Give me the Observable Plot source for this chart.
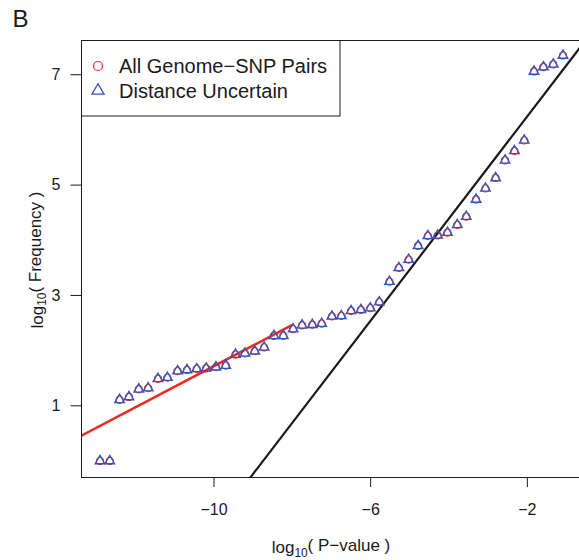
<!DOCTYPE html>
<html>
<head>
<meta charset="utf-8">
<script src="https://cdn.jsdelivr.net/npm/d3@7"></script>
<script src="https://cdn.jsdelivr.net/npm/@observablehq/plot@0.6"></script>
<style>
  html, body { margin: 0; padding: 0; background: #fff; overflow: hidden; }
  #chart { position: relative; width: 579px; height: 560px; }
</style>
</head>
<body>
<div id="chart"></div>
<script>
// Bin positions, log10(P-value)
const logP = [
  -12.91, -12.66, -12.41, -12.17, -11.92, -11.68, -11.43, -11.19, -10.93, -10.69,
  -10.44, -10.20, -9.95, -9.70, -9.45, -9.21, -8.96, -8.72, -8.47, -8.23,
  -7.98, -7.75, -7.49, -7.25, -6.99, -6.75, -6.50, -6.25, -6.01, -5.78,
  -5.52, -5.28, -5.03, -4.79, -4.54, -4.29, -4.04, -3.79, -3.56, -3.31,
  -3.07, -2.81, -2.57, -2.33, -2.08, -1.83, -1.59, -1.34, -1.09
];
// log10(Frequency), all genome-SNP pairs
const allPairs = [
  0.00, 0.00, 1.11, 1.16, 1.30, 1.32, 1.49, 1.51, 1.63, 1.65,
  1.67, 1.68, 1.70, 1.73, 1.93, 1.95, 1.99, 2.06, 2.27, 2.27,
  2.39, 2.46, 2.47, 2.49, 2.62, 2.63, 2.72, 2.74, 2.77, 2.88,
  3.25, 3.50, 3.65, 3.90, 4.08, 4.09, 4.14, 4.28, 4.43, 4.74,
  4.94, 5.13, 5.45, 5.62, 5.81, 7.06, 7.14, 7.19, 7.35
];
// log10(Frequency), pairs whose distance is uncertain
const distUncertain = [
  0.00, 0.00, 1.11, 1.16, 1.30, 1.32, 1.49, 1.51, 1.63, 1.65,
  1.67, 1.68, 1.70, 1.73, 1.93, 1.95, 1.99, 2.06, 2.27, 2.27,
  2.39, 2.46, 2.47, 2.49, 2.62, 2.63, 2.72, 2.74, 2.77, 2.88,
  3.25, 3.50, 3.65, 3.90, 4.08, 4.09, 4.14, 4.28, 4.43, 4.74,
  4.94, 5.13, 5.45, 5.62, 5.81, 7.06, 7.14, 7.19, 7.35
];
const xTicks = [-10, -6, -2];
const yTicks = [1, 3, 5, 7];
const seriesNames = ["All Genome\u2212SNP Pairs", "Distance Uncertain"];
// Fitted lines: y = intercept + slope * x over [from, to]
const lowFit = { intercept: 5.45, slope: 0.373, from: -14, to: -8.0 };
const tailFit = { intercept: 8.10, slope: 0.926, from: -10, to: 0 };

const RED = "#ec2a24";
const BLUE = "#3553b8";
const INK = "#1a1a1a";
const FONT = "'Liberation Sans', Arial, Helvetica, sans-serif";

const xDomain = [-13.382, -0.669];
const yDomain = [-0.2996, 7.621];

const points = logP.map((x, i) => ({ x, all: allPairs[i], unc: distUncertain[i] }));
const fitLine = f => [f.from, f.to].map(x => ({ x, y: f.intercept + f.slope * x }));

const plot = Plot.plot({
  width: 579,
  height: 560,
  marginLeft: 81,
  marginRight: 0,
  marginTop: 40,
  marginBottom: 83,
  x: { domain: xDomain },
  y: { domain: yDomain },
  style: { fontFamily: FONT, background: "white", color: INK, overflow: "visible" },
  marks: [
    Plot.line(fitLine(lowFit), { x: "x", y: "y", stroke: RED, strokeWidth: 2.5, clip: true }),
    Plot.line(fitLine(tailFit), { x: "x", y: "y", stroke: INK, strokeWidth: 2.2, clip: true }),
    Plot.dot(points, { x: "x", y: "all", r: 3.6, fill: "none", stroke: RED, strokeWidth: 1.1 }),
    Plot.dot(points, { x: "x", y: "unc", symbol: "triangle", r: 3.6, fill: "none", stroke: BLUE, strokeWidth: 1.3 }),
    Plot.ruleX([xDomain[0]], { stroke: INK }),
    Plot.ruleY(yDomain, { stroke: INK }),
    Plot.axisX(xTicks, { tickSize: 10, tickPadding: 16.5, fontSize: 16, label: null, tickFormat: "d" }),
    Plot.axisY(yTicks, { tickSize: 10.5, tickPadding: 10.5, fontSize: 16, label: null, tickFormat: "d" })
  ]
});

document.getElementById("chart").appendChild(plot);

// Titles with subscripted log base, legend and panel letter
const svg = d3.select(plot);
const deco = svg.append("g").attr("font-family", FONT).attr("fill", INK);

function subTitle(sel, before, sub, after) {
  sel.append("tspan").text(before);
  sel.append("tspan").attr("font-size", "0.7em").attr("dy", "0.3em").text(sub);
  sel.append("tspan").attr("dy", "-0.3em").text(after);
}

const xTitle = deco.append("text")
  .attr("x", 331).attr("y", 553)
  .attr("text-anchor", "middle").attr("font-size", 17);
subTitle(xTitle, "log", "10", "( P\u2212value )");

const yTitle = deco.append("text")
  .attr("transform", "translate(42.5,260) rotate(-90)")
  .attr("text-anchor", "middle").attr("font-size", 17);
subTitle(yTitle, "log", "10", "( Frequency )");

deco.append("text")
  .attr("x", 12.5).attr("y", 27)
  .attr("text-anchor", "start")
  .attr("font-size", 24).text("B");

const legend = deco.append("g").attr("text-anchor", "start");
legend.append("rect")
  .attr("x", 81.5).attr("y", 40.5).attr("width", 258.5).attr("height", 75.5)
  .attr("fill", "white").attr("stroke", INK);
legend.append("circle")
  .attr("cx", 98).attr("cy", 66).attr("r", 4.5)
  .attr("fill", "none").attr("stroke", RED).attr("stroke-width", 1.2);
legend.append("path")
  .attr("d", d3.symbol(d3.symbolTriangle, Math.PI * 4.5 * 4.5)())
  .attr("transform", "translate(98,90.7)")
  .attr("fill", "none").attr("stroke", BLUE).attr("stroke-width", 1.3);
legend.selectAll("text.entry")
  .data(seriesNames)
  .join("text")
  .attr("class", "entry")
  .attr("x", 119)
  .attr("y", (d, i) => 73.2 + i * 24.7)
  .attr("font-size", 20)
  .text(d => d);
</script>
</body>
</html>
